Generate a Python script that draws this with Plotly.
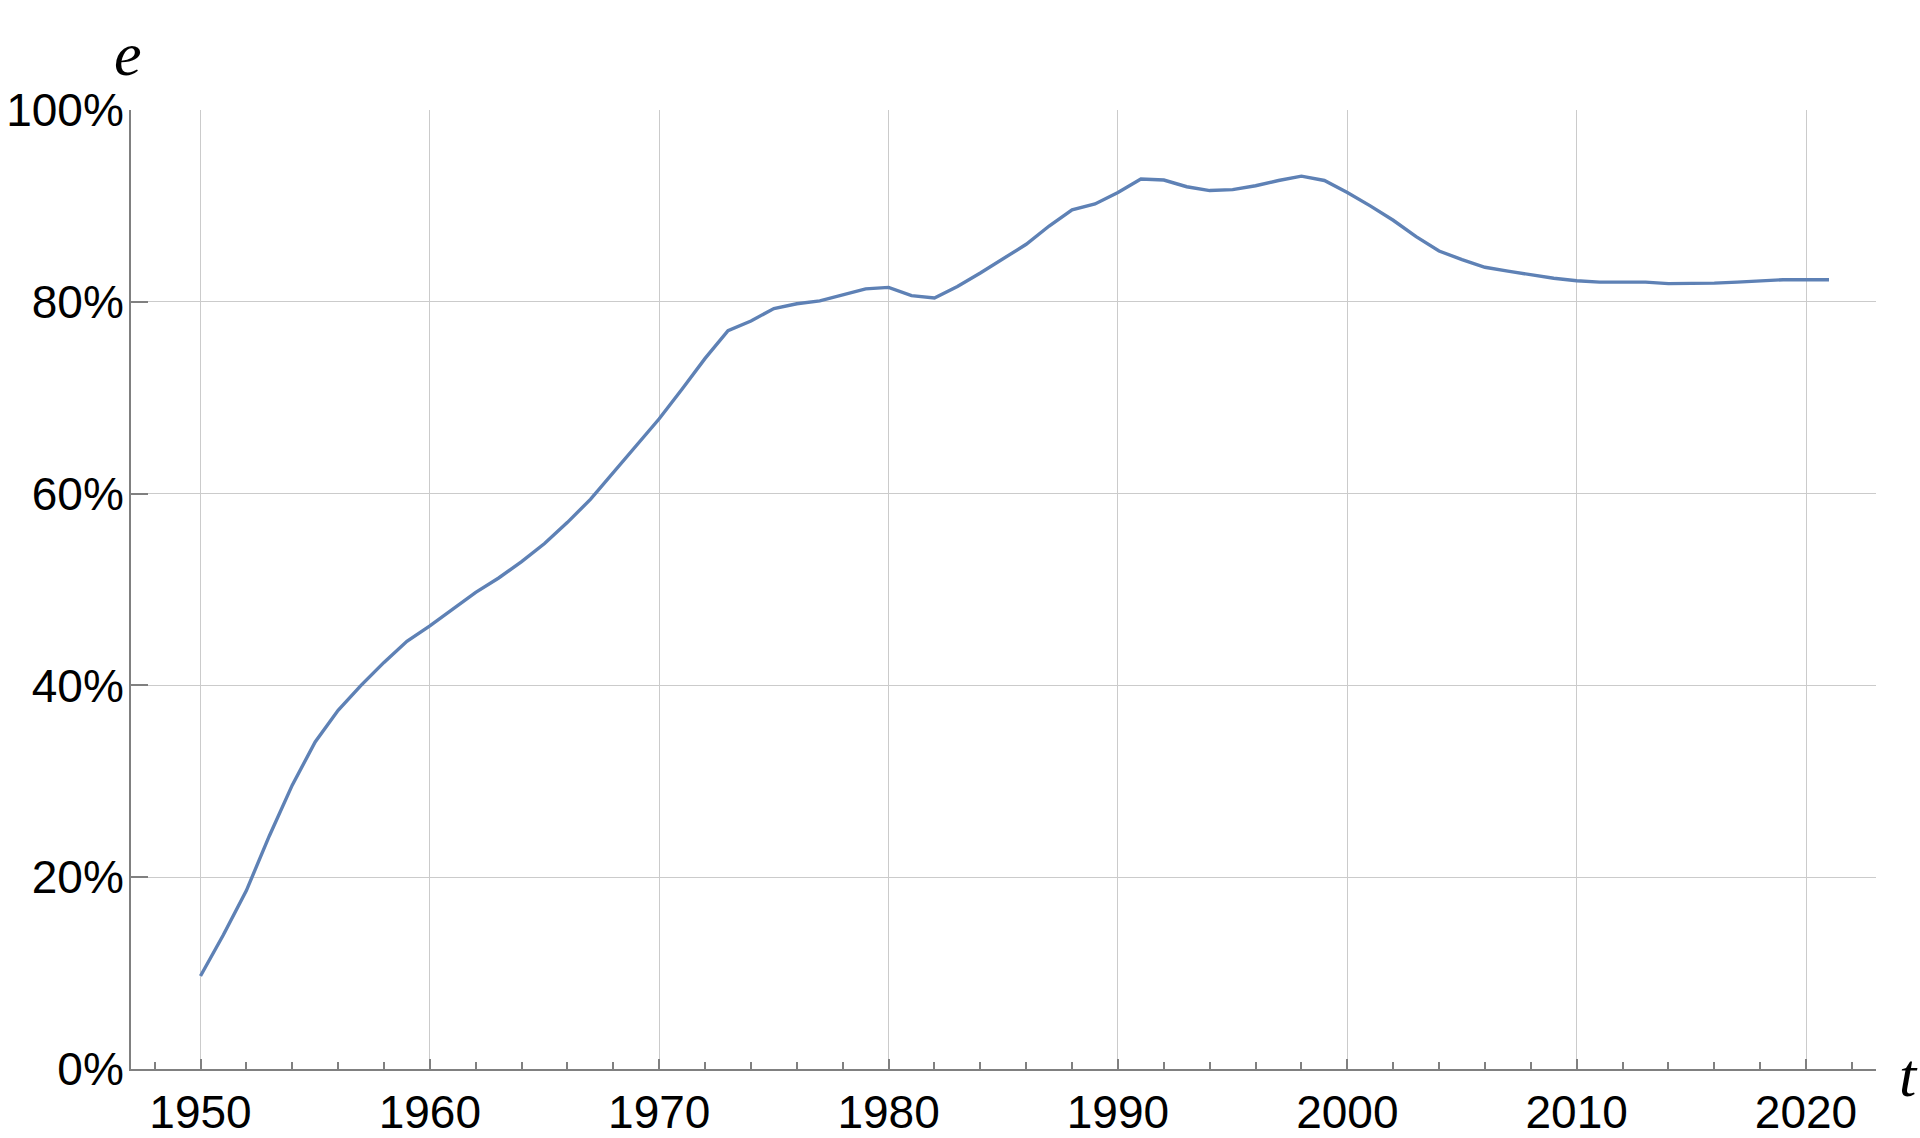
import plotly.graph_objects as go

years = list(range(1950, 2022))
share = [
    9.7, 14.0, 18.6, 24.3, 29.6, 34.1, 37.4, 40.0, 42.4, 44.6,
    46.2, 48.0, 49.7, 51.2, 52.9, 54.8, 57.0, 59.4, 62.2, 65.0,
    67.8, 70.9, 74.1, 77.0, 78.0, 79.3, 79.8, 80.1, 80.7, 81.35,
    81.5, 80.65, 80.4, 81.6, 83.0, 84.5, 86.0, 87.9, 89.6, 90.2,
    91.4, 92.8, 92.7, 92.0, 91.6, 91.7, 92.1, 92.65, 93.1, 92.65,
    91.4, 90.0, 88.5, 86.8, 85.3, 84.4, 83.6, 83.2, 82.8, 82.45,
    82.2, 82.05, 82.05, 82.05, 81.9, 81.9, 81.95, 82.05, 82.15, 82.3,
    82.3, 82.3,
]
y_ticks = [0, 0.2, 0.4, 0.6, 0.8, 1.0]
y_tick_labels = ["0%", "20%", "40%", "60%", "80%", "100%"]
x_ticks = [1950, 1960, 1970, 1980, 1990, 2000, 2010, 2020]

AXIS = "#808080"
GRID = "#cbcbcb"
TICKFONT = dict(family="Liberation Sans, Arial, sans-serif", size=46, color="black")

fig = go.Figure()
fig.add_trace(go.Scatter(
    x=years, y=[v / 100 for v in share], mode="lines",
    line=dict(color="#5E81B5", width=3.4), hoverinfo="skip", showlegend=False,
))

fig.update_layout(
    width=1920, height=1138,
    margin=dict(l=131, r=44, t=110, b=69, pad=0, autoexpand=False),
    paper_bgcolor="white", plot_bgcolor="white",
    xaxis=dict(
        range=[1946.97, 2023.05], tickvals=x_ticks, ticktext=[str(v) for v in x_ticks],
        ticks="inside", ticklen=10, tickwidth=2, tickcolor=AXIS,
        showline=True, linecolor=AXIS, linewidth=2, automargin=False,
        showgrid=True, gridcolor=GRID, gridwidth=1, zeroline=False,
        tickfont=TICKFONT, ticklabelstandoff=2,
        minor=dict(ticks="inside", ticklen=7, tickwidth=2, tickcolor=AXIS,
                   tick0=1948, dtick=2, showgrid=False),
    ),
    yaxis=dict(
        range=[0, 1], tickvals=y_ticks, ticktext=y_tick_labels,
        ticks="inside", ticklen=17, tickwidth=2, tickcolor=AXIS,
        showline=True, linecolor=AXIS, linewidth=2, automargin=False,
        showgrid=True, gridcolor=GRID, gridwidth=1, zeroline=False,
        tickfont=TICKFONT, ticklabelstandoff=-4,
    ),
    annotations=[
        dict(text="<i>e</i>", xref="paper", yref="paper", x=-0.0015, y=1.058,
             xanchor="center", yanchor="middle", showarrow=False,
             font=dict(family="Liberation Serif, Times New Roman, serif", size=62, color="black")),
        dict(text="<i>t</i>", xref="paper", yref="paper", x=1.0185, y=-0.006,
             xanchor="center", yanchor="middle", showarrow=False,
             font=dict(family="Liberation Serif, Times New Roman, serif", size=62, color="black")),
    ],
)

fig.write_html("out.html", config={"displayModeBar": False},
               post_script="document.body.style.margin='0';document.body.style.overflow='hidden';")
